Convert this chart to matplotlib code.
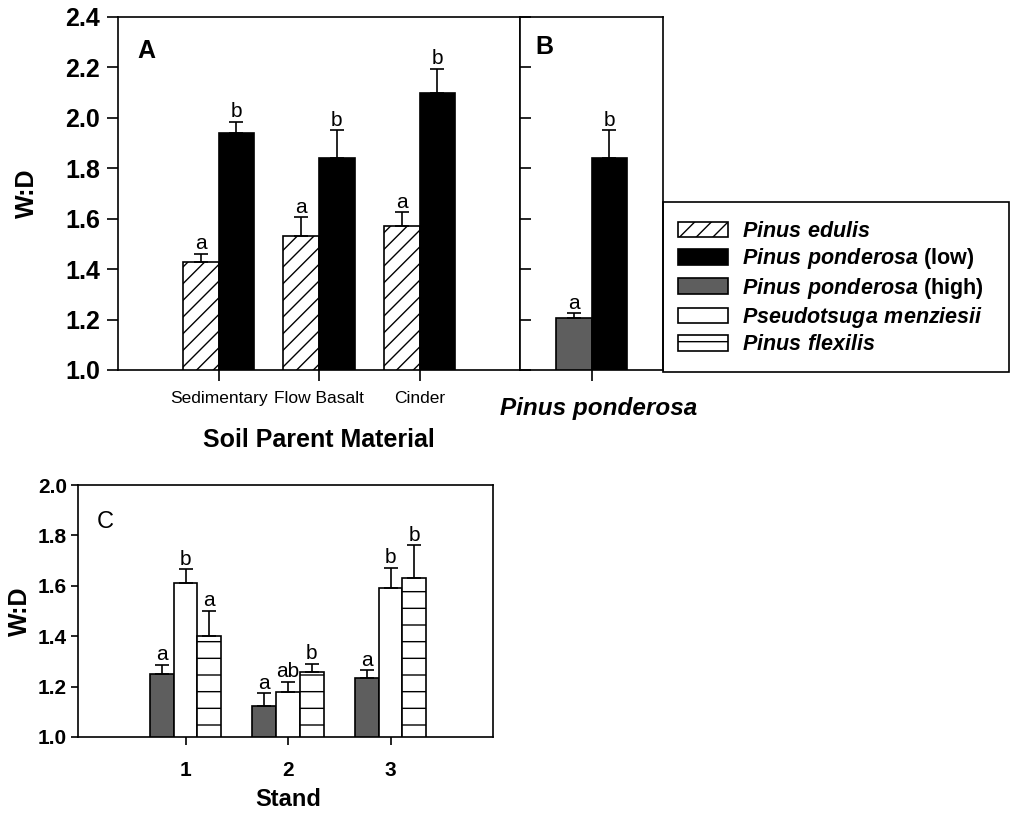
import numpy as np
import matplotlib
matplotlib.use('Agg')
import matplotlib.pyplot as plt
from matplotlib.patches import Patch, Rectangle

plt.rcParams['font.family'] = ['Liberation Sans', 'DejaVu Sans']
plt.rcParams['mathtext.fontset'] = 'custom'
plt.rcParams['mathtext.bfit'] = 'Liberation Sans:bold:italic'
plt.rcParams['mathtext.rm'] = 'Liberation Sans:bold'
plt.rcParams['hatch.linewidth'] = 1.0
plt.rcParams['axes.linewidth'] = 1.2

# panel A: soil parent material
soil = ['Sedimentary', 'Flow Basalt', 'Cinder']
edulis = [1.43, 1.53, 1.57]
edulis_err = [0.03, 0.075, 0.055]
edulis_sig = ['a', 'a', 'a']
pond_low = [1.94, 1.84, 2.10]
pond_low_err = [0.045, 0.11, 0.095]
pond_low_sig = ['b', 'b', 'b']

# panel B: Pinus ponderosa high vs low
b_vals = [1.205, 1.84]
b_err = [0.02, 0.11]
b_sig = ['a', 'b']

# panel C: stands
stands = ['1', '2', '3']
c_high = [1.25, 1.125, 1.235]
c_high_err = [0.035, 0.048, 0.03]
c_high_sig = ['a', 'a', 'a']
c_menz = [1.61, 1.18, 1.59]
c_menz_err = [0.055, 0.04, 0.08]
c_menz_sig = ['b', 'ab', 'b']
c_flex = [1.40, 1.257, 1.63]
c_flex_err = [0.10, 0.034, 0.13]
c_flex_sig = ['a', 'b', 'b']

GRAY = '#5e5e5e'

STYLES = {
    'edulis': dict(facecolor='white', hatch='//'),
    'low': dict(facecolor='black'),
    'high': dict(facecolor=GRAY),
    'menz': dict(facecolor='white'),
    'flex': dict(facecolor='white', hatch='-'),
}


def draw_bars(ax, x, vals, errs, sigs, width, style, fs):
    ax.bar(x, vals, width, edgecolor='black', linewidth=1.2, zorder=2, **STYLES[style])
    ax.errorbar(x, vals, yerr=[np.zeros(len(vals)), errs], fmt='none', ecolor='black',
                elinewidth=1.2, capsize=4.7, capthick=1.2, zorder=3)
    for xi, v, e, s in zip(x, vals, errs, sigs):
        ax.annotate(s, (xi, v + e), xytext=(0, 0.5), textcoords='offset points',
                    ha='center', va='bottom', fontsize=fs)


fig = plt.figure(figsize=(10.11, 8.16), dpi=100)

# ---- A ----
ax_a = fig.add_axes([118 / 1011, 1 - 370 / 816, 402 / 1011, 353 / 816])
xa = np.arange(1, len(soil) + 1)
w = 0.355
draw_bars(ax_a, xa - w / 2, edulis, edulis_err, edulis_sig, w, 'edulis', 15)
draw_bars(ax_a, xa + w / 2, pond_low, pond_low_err, pond_low_sig, w, 'low', 15)
ax_a.set_xlim(0, 4)
ax_a.set_ylim(1.0, 2.4)
ax_a.set_yticks(np.arange(1.0, 2.41, 0.2))
ax_a.set_yticklabels(['%.1f' % t for t in np.arange(1.0, 2.41, 0.2)], fontsize=18, fontweight='bold')
ax_a.set_xticks(xa)
ax_a.set_xticklabels(soil, fontsize=12.5)
ax_a.tick_params(axis='y', direction='out', length=8, width=1.2, pad=5)
ax_a.tick_params(axis='x', direction='out', length=8, width=1.2, pad=7)
ax_a.set_ylabel('W:D', fontsize=18, fontweight='bold')
ax_a.yaxis.set_label_coords(-0.226, 0.5)
ax_a.yaxis.label.set_va('center')
ax_a.set_xlabel('Soil Parent Material', fontsize=18, fontweight='bold')
ax_a.xaxis.set_label_coords(0.5, -0.198)
ax_a.xaxis.label.set_va('center')
ax_a.text(0.047, 0.905, 'A', transform=ax_a.transAxes, fontsize=18, fontweight='bold',
          ha='left', va='center')

# ---- B ----
ax_b = fig.add_axes([520 / 1011, 1 - 370 / 816, 143 / 1011, 353 / 816])
wb = 0.49
draw_bars(ax_b, [1 - wb / 2], b_vals[:1], b_err[:1], b_sig[:1], wb, 'high', 15)
draw_bars(ax_b, [1 + wb / 2], b_vals[1:], b_err[1:], b_sig[1:], wb, 'low', 15)
ax_b.set_xlim(0, 2)
ax_b.set_ylim(1.0, 2.4)
ax_b.set_yticks(np.arange(1.0, 2.41, 0.2))
ax_b.set_yticklabels([])
ax_b.set_xticks([1])
ax_b.set_xticklabels([])
ax_b.tick_params(axis='y', direction='in', length=8, width=1.2)
ax_b.tick_params(axis='x', direction='out', length=8, width=1.2)
ax_b.set_xlabel('Pinus ponderosa', fontsize=17.5, fontweight='bold', fontstyle='italic')
ax_b.xaxis.set_label_coords(0.549, -0.108)
ax_b.xaxis.label.set_va('center')
ax_b.text(0.105, 0.914, 'B', transform=ax_b.transAxes, fontsize=18, fontweight='bold',
          ha='left', va='center')

# ---- legend ----
fig.add_artist(Rectangle((663 / 1011, 1 - 372 / 816), 346 / 1011, 170 / 816, fill=False,
                         edgecolor='black', linewidth=1.2, transform=fig.transFigure))
leg_labels = [r'$\mathbfit{Pinus\ edulis}$',
              r'$\mathbfit{Pinus\ ponderosa}$ (low)',
              r'$\mathbfit{Pinus\ ponderosa}$ (high)',
              r'$\mathbfit{Pseudotsuga\ menziesii}$',
              r'$\mathbfit{Pinus\ flexilis}$']
leg_handles = [Patch(edgecolor='black', linewidth=1.2, **STYLES[k])
               for k in ['edulis', 'low', 'high', 'menz', 'flex']]
fig.legend(leg_handles, leg_labels, loc='upper left', bbox_to_anchor=(678 / 1011, 1 - 221 / 816),
           frameon=False, prop={'size': 15.5, 'weight': 'bold'}, handlelength=2.3,
           handleheight=0.75, handletextpad=0.65, labelspacing=0.2, borderpad=0,
           borderaxespad=0)

# ---- C ----
ax_c = fig.add_axes([78 / 1011, 1 - 737 / 816, 415 / 1011, 252 / 816])
xc = np.arange(1, len(stands) + 1)
wc = 0.232
draw_bars(ax_c, xc - wc, c_high, c_high_err, c_high_sig, wc, 'high', 15)
draw_bars(ax_c, xc, c_menz, c_menz_err, c_menz_sig, wc, 'menz', 15)
draw_bars(ax_c, xc + wc, c_flex, c_flex_err, c_flex_sig, wc, 'flex', 15)
ax_c.set_xlim(-0.05, 4.0)
ax_c.set_ylim(1.0, 2.0)
ax_c.set_yticks(np.arange(1.0, 2.01, 0.2))
ax_c.set_yticklabels(['%.1f' % t for t in np.arange(1.0, 2.01, 0.2)], fontsize=15,
                     fontweight='bold')
ax_c.set_xticks(xc)
ax_c.set_xticklabels(stands, fontsize=15, fontweight='bold')
ax_c.tick_params(axis='y', direction='out', length=5, width=1.2, pad=3)
ax_c.tick_params(axis='x', direction='out', length=6, width=1.2, pad=11)
ax_c.set_ylabel('W:D', fontsize=18, fontweight='bold')
ax_c.yaxis.set_label_coords(-0.14, 0.5)
ax_c.yaxis.label.set_va('center')
ax_c.set_xlabel('Stand', fontsize=17, fontweight='bold')
ax_c.xaxis.set_label_coords(0.506, -0.25)
ax_c.xaxis.label.set_va('center')
ax_c.text(0.046, 0.855, 'C', transform=ax_c.transAxes, fontsize=17,
          ha='left', va='center')

fig.savefig('out.png', dpi=100)
